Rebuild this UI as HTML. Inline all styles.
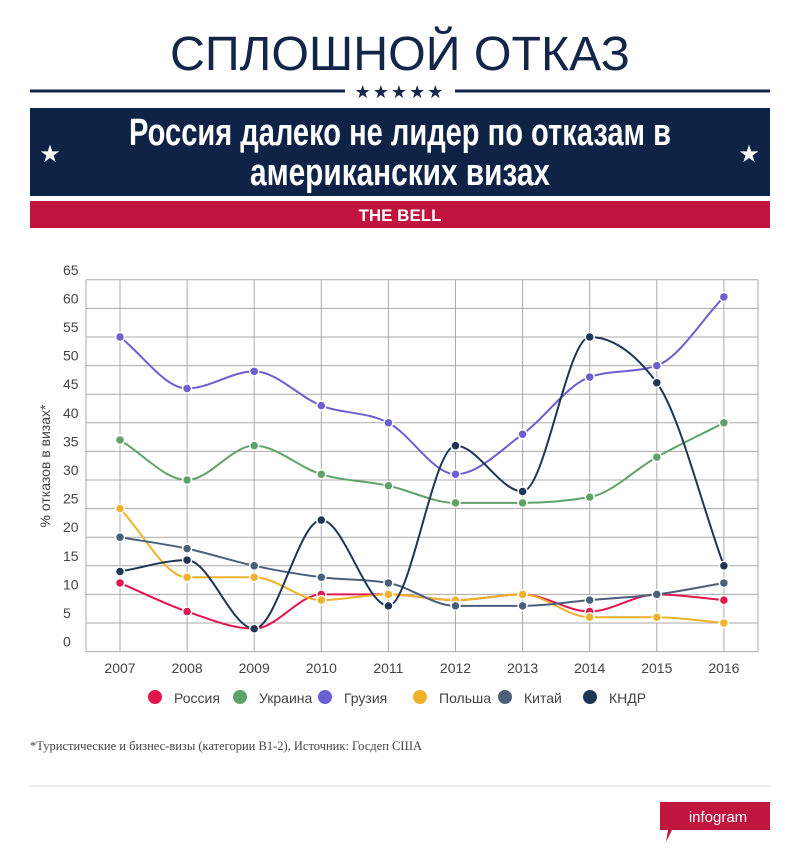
<!DOCTYPE html>
<html><head><meta charset="utf-8"><style>
body{margin:0;background:#fff;width:800px;height:850px;overflow:hidden;font-family:"Liberation Sans",sans-serif}
</style></head><body>
<svg width="800" height="850" xmlns="http://www.w3.org/2000/svg" id="s">
<text x="400" y="70" text-anchor="middle" font-family="Liberation Sans Narrow, Liberation Sans, sans-serif" font-size="48" fill="#13264a" textLength="460" lengthAdjust="spacingAndGlyphs">СПЛОШНОЙ ОТКАЗ</text>
<line x1="30" y1="91" x2="345" y2="91" stroke="#13264a" stroke-width="3"/>
<line x1="455" y1="91" x2="770" y2="91" stroke="#13264a" stroke-width="3"/>
<text x="400" y="98" text-anchor="middle" font-size="18" fill="#13264a" letter-spacing="2">★★★★★</text>
<rect x="30" y="108" width="740" height="88" fill="#0f2347"/>
<text x="50" y="162" text-anchor="middle" font-size="24" fill="#fff">★</text>
<text x="749" y="162" text-anchor="middle" font-size="24" fill="#fff">★</text>
<text x="400" y="145" text-anchor="middle" font-family="Liberation Sans Narrow, Liberation Sans, sans-serif" font-weight="bold" font-size="38" fill="#fff" textLength="542" lengthAdjust="spacingAndGlyphs">Россия далеко не лидер по отказам в</text>
<text x="400" y="185" text-anchor="middle" font-family="Liberation Sans Narrow, Liberation Sans, sans-serif" font-weight="bold" font-size="38" fill="#fff" textLength="300" lengthAdjust="spacingAndGlyphs">американских визах</text>
<rect x="30" y="201" width="740" height="27" fill="#c0143e"/>
<text x="400" y="221" text-anchor="middle" font-family="Liberation Sans Narrow, Liberation Sans, sans-serif" font-weight="bold" font-size="17" fill="#fff">THE BELL</text>
<g id="grid"></g>
<text transform="translate(50,466) rotate(-90)" text-anchor="middle" font-size="14" fill="#444">% отказов в визах*</text>
<g id="lines"></g>
<g id="leg" font-size="14" fill="#444"></g>
<text x="30" y="750" font-family="Liberation Serif, serif" font-size="12.5" fill="#444">*Туристические и бизнес-визы (категории B1-2), Источник: Госдеп США</text>
<line x1="30" y1="786" x2="770" y2="786" stroke="#ddd"/>
<polygon points="660,802 770,802 770,830 672,830 666,842 668,830 660,830" fill="#c0143e"/>
<text x="718" y="822" text-anchor="middle" font-size="15" fill="#fff">infogram</text>
</svg>
<script>
var NS="http://www.w3.org/2000/svg";
function el(p,t,a,txt){var e=document.createElementNS(NS,t);for(var k in a)e.setAttribute(k,a[k]);if(txt!=null)e.textContent=txt;p.appendChild(e);return e;}
var g=document.getElementById('grid');
function X(i){return 120+i*67.1;} function Y(v){return 651.6-v*5.72;}
for(var v=0;v<=65;v+=5){el(g,'line',{x1:86,x2:758,y1:Y(v),y2:Y(v),stroke:'#aaa','stroke-width':1});
el(g,'text',{x:63,y:Y(v)-5,'font-size':14,fill:'#444'},v);}
for(var i=0;i<10;i++){el(g,'line',{x1:X(i),x2:X(i),y1:Y(65),y2:Y(0),stroke:'#aaa'});
el(g,'text',{x:X(i),y:673,'text-anchor':'middle','font-size':14,fill:'#444'},2007+i);}
el(g,'line',{x1:86,x2:86,y1:Y(65),y2:Y(0),stroke:'#aaa'});
el(g,'line',{x1:758,x2:758,y1:Y(65),y2:Y(0),stroke:'#aaa'});
var S=[["Россия","#e0174f",[12,7,4,10,10,9,10,7,10,9]],
["Украина","#5fa36a",[37,30,36,31,29,26,26,27,34,40]],
["Грузия","#6a5fd3",[55,46,49,43,40,31,38,48,50,62]],
["Польша","#f2b12a",[25,13,13,9,10,9,10,6,6,5]],
["Китай","#4a5f7a",[20,18,15,13,12,8,8,9,10,12]],
["КНДР","#1e3555",[14,16,4,23,8,36,28,55,47,15]]];
function mono(xs,ys){var n=xs.length,d=[],m=[],i;for(i=0;i<n-1;i++)d[i]=(ys[i+1]-ys[i])/(xs[i+1]-xs[i]);
m[0]=d[0];m[n-1]=d[n-2];for(i=1;i<n-1;i++){
var h0=xs[i]-xs[i-1],h1=xs[i+1]-xs[i],p=(d[i-1]*h1+d[i]*h0)/(h0+h1);
m[i]=(d[i-1]*d[i]<=0)?0:(Math.sign(d[i-1])+Math.sign(d[i]))*Math.min(Math.abs(d[i-1]),Math.abs(d[i]),0.5*Math.abs(p));}
var s="M"+xs[0]+","+ys[0];for(i=0;i<n-1;i++){var h=(xs[i+1]-xs[i])/3;s+="C"+(xs[i]+h)+","+(ys[i]+m[i]*h)+" "+(xs[i+1]-h)+","+(ys[i+1]-m[i+1]*h)+" "+xs[i+1]+","+ys[i+1];}return s;}
var L=document.getElementById('lines');
S.forEach(function(s){var xs=s[2].map(function(_,i){return X(i)}),ys=s[2].map(Y);
el(L,'path',{d:mono(xs,ys),fill:'none',stroke:s[1],'stroke-width':2});
xs.forEach(function(x,i){el(L,'circle',{cx:x,cy:ys[i],r:4.5,fill:s[1],stroke:'#fff','stroke-width':1.5});});});
var lg=document.getElementById('leg'),lx=[155,240,325,420,505,590];
S.forEach(function(s,i){el(lg,'circle',{cx:lx[i],cy:697,r:7,fill:s[1]});el(lg,'text',{x:lx[i]+19,y:703},s[0]);});
</script>
</body></html>
